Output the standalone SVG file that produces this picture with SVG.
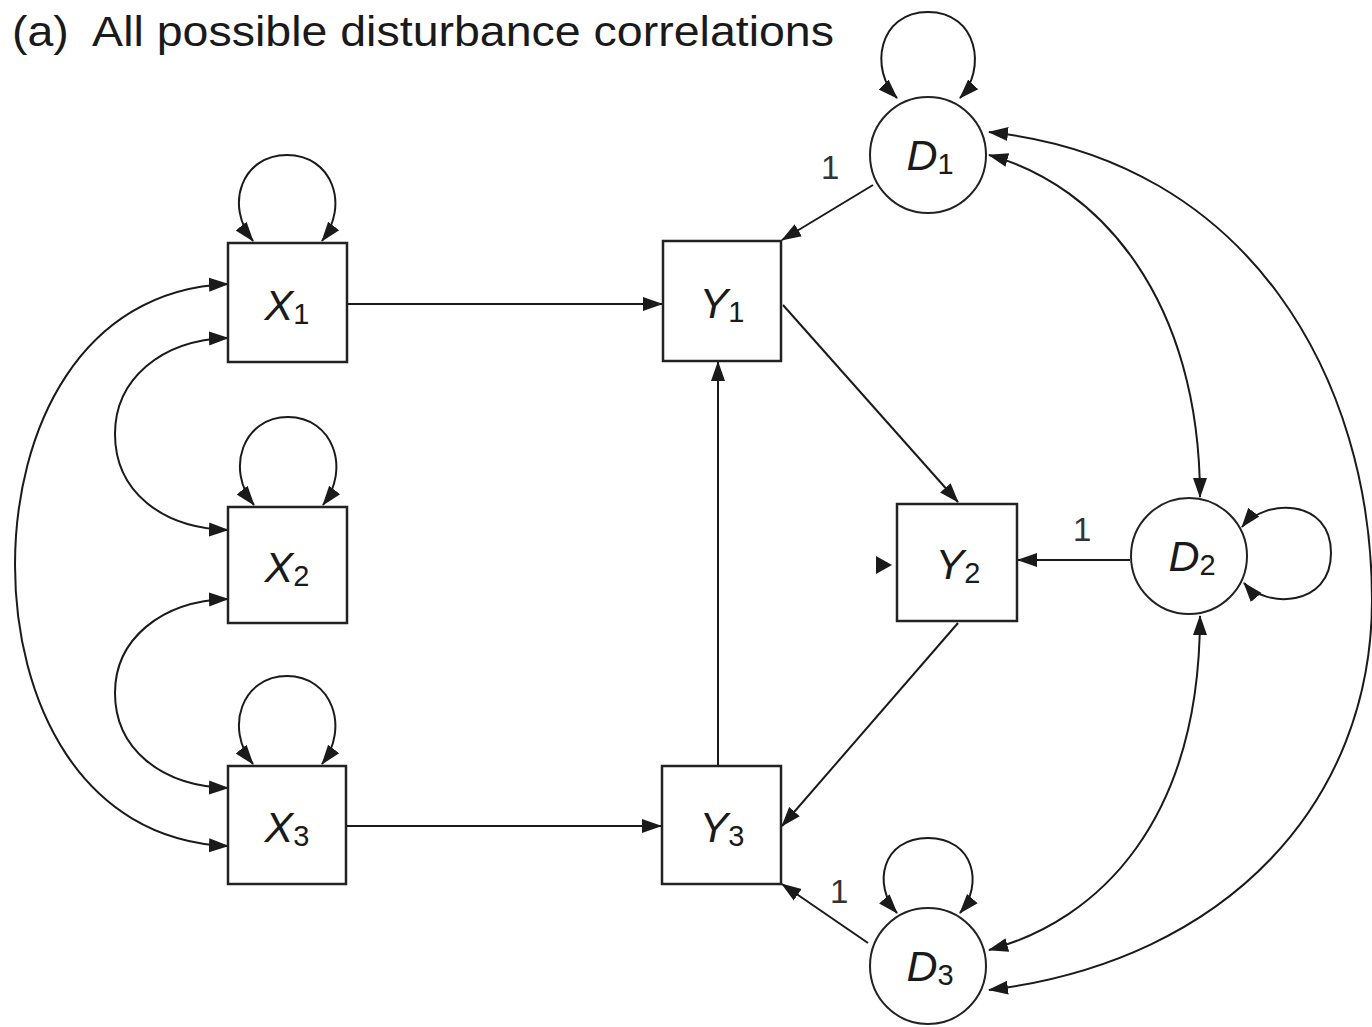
<svg xmlns="http://www.w3.org/2000/svg" width="1372" height="1027" viewBox="0 0 1372 1027">
  <style>
    .box { fill: #fff; stroke: #222; stroke-width: 2.5; }
    .circ { fill: #fff; stroke: #222; stroke-width: 2; }
    .lbl { font-family: "Liberation Sans", Arial, sans-serif; font-size: 43px; fill: #1a1a1a; }
    .var { font-style: italic; }
    .sub { font-size: 29px; font-style: normal; }
    .one { font-family: "Liberation Sans", Arial, sans-serif; font-size: 33px; fill: #333; }
    .edge { fill: none; stroke: #1a1a1a; stroke-width: 2; }
    .dir { marker-end: url(#head); }
    .cov { marker-start: url(#head); marker-end: url(#head); }
  </style>
  <defs>
    <marker id="head" markerUnits="userSpaceOnUse" markerWidth="20" markerHeight="16" viewBox="0 0 20 16" refX="19" refY="8" orient="auto-start-reverse">
      <path d="M0,1 L20,8 L0,15 z" fill="#1a1a1a"/>
    </marker>
  </defs>

  <rect width="1372" height="1027" fill="#fff"/>

  <text class="lbl" x="12" y="46" font-size="44" xml:space="preserve" textLength="822" lengthAdjust="spacingAndGlyphs">(a)  All possible disturbance correlations</text>

  <g id="connectors">
    <!-- structural paths -->
    <path class="edge dir" d="M347,304 L662,304"/>
    <path class="edge dir" d="M347,826 L661,826"/>
    <path class="edge dir" d="M718,766 L718,362"/>
    <path class="edge dir" d="M783,305 L958,502"/>
    <path class="edge dir" d="M958,623 L782,826"/>
    <path class="edge dir" d="M873,185 L782,240"/>
    <path class="edge dir" d="M1130,560 L1018,560"/>
    <path class="edge dir" d="M868,943 L782,884"/>
    <!-- stray arrowhead left of Y2 -->
    <path d="M876,556 L892,565 L876,574 z" fill="#1a1a1a"/>

    <!-- exogenous covariances -->
    <path class="edge cov" d="M228,284 C80,290 15,430 15,565 C15,700 80,840 228,846"/>
    <path class="edge cov" d="M228,338 C160,340 115,380 115,434 C115,490 160,528 228,530"/>
    <path class="edge cov" d="M228,599 C160,601 115,640 115,693 C115,748 160,786 228,788"/>

    <!-- disturbance covariances -->
    <path class="edge cov" d="M989,155 C1100,185 1200,300 1200,497"/>
    <path class="edge cov" d="M989,132 C1250,160 1372,380 1372,600 C1372,800 1230,960 989,990"/>
    <path class="edge cov" d="M1200,616 C1200,820 1100,920 989,950"/>

    <!-- variances -->
    <path class="edge cov" d="M253,241 C224,205 242,155 287,155 C332,155 350,205 322,241"/>
    <path class="edge cov" d="M254,505 C225,469 243,417 288,417 C333,417 351,469 323,505"/>
    <path class="edge cov" d="M253,764 C224,728 242,676 287,676 C332,676 350,728 322,764"/>
    <path class="edge cov" d="M897,98 C869,70 878,12 928,12 C978,12 987,70 960,98"/>
    <path class="edge cov" d="M1242,527 C1265,498 1331,498 1331,553 C1331,608 1265,608 1244,583"/>
    <path class="edge cov" d="M897,913 C872,885 882,838 928,838 C974,838 984,885 960,913"/>

    <text class="one" x="821" y="179" fill="#555">1</text>
    <text class="one" x="1073" y="541">1</text>
    <text class="one" x="830" y="903">1</text>
  </g>

  <g id="X1">
    <rect class="box" x="228" y="243" width="119" height="119"/>
    <text class="lbl var" x="287" y="320" text-anchor="middle">X<tspan class="sub" dy="4">1</tspan></text>
  </g>
  <g id="X2">
    <rect class="box" x="228" y="507" width="119" height="116"/>
    <text class="lbl var" x="287" y="582" text-anchor="middle">X<tspan class="sub" dy="4">2</tspan></text>
  </g>
  <g id="X3">
    <rect class="box" x="228" y="766" width="118" height="118"/>
    <text class="lbl var" x="287" y="842" text-anchor="middle">X<tspan class="sub" dy="4">3</tspan></text>
  </g>
  <g id="Y1">
    <rect class="box" x="663" y="241" width="118" height="120"/>
    <text class="lbl var" x="722" y="318" text-anchor="middle">Y<tspan class="sub" dy="4">1</tspan></text>
  </g>
  <g id="Y2">
    <rect class="box" x="897" y="504" width="120" height="117"/>
    <text class="lbl var" x="958" y="579" text-anchor="middle">Y<tspan class="sub" dy="4">2</tspan></text>
  </g>
  <g id="Y3">
    <rect class="box" x="662" y="766" width="119" height="118"/>
    <text class="lbl var" x="722" y="842" text-anchor="middle">Y<tspan class="sub" dy="4">3</tspan></text>
  </g>
  <g id="D1">
    <circle class="circ" cx="928" cy="155" r="58"/>
    <text class="lbl var" x="930" y="170" text-anchor="middle">D<tspan class="sub" dy="4">1</tspan></text>
  </g>
  <g id="D2">
    <circle class="circ" cx="1189" cy="556" r="58"/>
    <text class="lbl var" x="1192" y="571" text-anchor="middle">D<tspan class="sub" dy="4">2</tspan></text>
  </g>
  <g id="D3">
    <circle class="circ" cx="928" cy="966" r="58"/>
    <text class="lbl var" x="930" y="981" text-anchor="middle">D<tspan class="sub" dy="4">3</tspan></text>
  </g>
</svg>
